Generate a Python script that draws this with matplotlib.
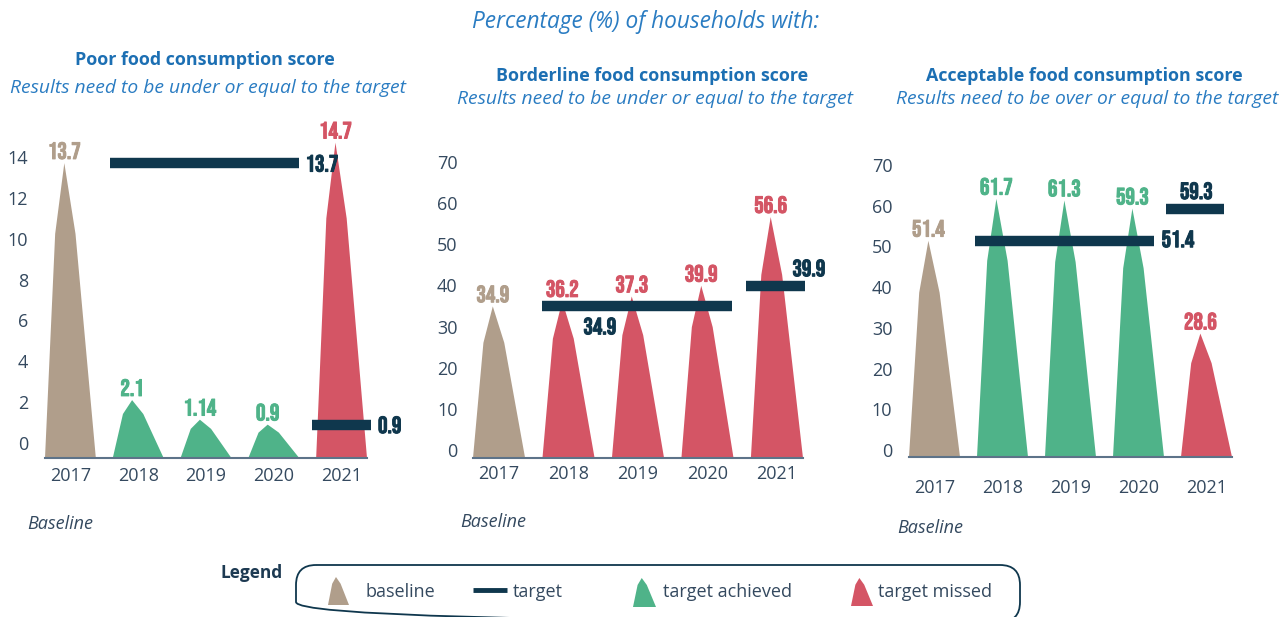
import numpy as np
import matplotlib
matplotlib.use('Agg')
import matplotlib.pyplot as plt
from matplotlib.patches import Polygon, FancyBboxPatch
from matplotlib import font_manager
import matplotlib.patheffects as pe

W, H = 1288, 617

years = ['2017', '2018', '2019', '2020', '2021']

poor_values = [13.7, 2.1, 1.14, 0.9, 14.7]
poor_status = ['baseline', 'achieved', 'achieved', 'achieved', 'missed']
poor_targets = [13.7, 0.9]
poor_target_years = [(1, 3), (4, 4)]

border_values = [34.9, 36.2, 37.3, 39.9, 56.6]
border_status = ['baseline', 'missed', 'missed', 'missed', 'missed']
border_targets = [34.9, 39.9]
border_target_years = [(1, 3), (4, 4)]

accept_values = [51.4, 61.7, 61.3, 59.3, 28.6]
accept_status = ['baseline', 'achieved', 'achieved', 'achieved', 'missed']
accept_targets = [51.4, 59.3]
accept_target_years = [(1, 3), (4, 4)]

poor_ticks = [0, 2, 4, 6, 8, 10, 12, 14]
pct_ticks = [0, 10, 20, 30, 40, 50, 60, 70]

titles = ['Poor food consumption score', 'Borderline food consumption score',
          'Acceptable food consumption score']
subtitles = ['Results need to be under or equal to the target',
             'Results need to be under or equal to the target',
             'Results need to be over or equal to the target']
legend_labels = ['baseline', 'target', 'target achieved', 'target missed']

# colours
COLORS = {'baseline': '#b09e8b', 'achieved': '#4fb389', 'missed': '#d45565'}
NAVY = '#0f374d'
BLUE = '#2a7cc2'
BLUE_B = '#1c6fb3'
SLATE = '#34495f'

# peak shape (relative x across bar width, relative height)
SHAPE_X = np.array([0.0, 0.2, 0.38, 0.6, 1.0])
SHAPE_Y = np.array([0.0, 0.76, 1.0, 0.76, 0.0])
BAR_W = 0.75

names = {f.name for f in font_manager.fontManager.ttflist}
COND = 'DejaVu Sans'
for cand in ['Bebas Neue', 'Oswald', 'Roboto Condensed', 'Liberation Sans Narrow']:
    if cand in names:
        COND = cand
        break

plt.rcParams['font.family'] = ['Open Sans', 'DejaVu Sans']

fig = plt.figure(figsize=(W / 100, H / 100), dpi=100)


def fx(px):
    return px / W


def fy(py):
    return 1 - py / H


def num_label(ax, text, xy, dy, color, va):
    ax.annotate(text, xy, xytext=(0, dy), textcoords='offset points',
                ha='center', va=va, color=color, fontsize=17, family=COND,
                fontweight='bold', annotation_clip=False,
                path_effects=[pe.withStroke(linewidth=0.7, foreground=color)])


def draw_panel(box, values, status, targets, tyears, tpads, ticks, ylim, tlab, xpad, ypad):
    left, top, right, bottom = box
    ax = fig.add_axes([fx(left), fy(bottom), fx(right - left), fy(top) - fy(bottom)])
    ax.set_xlim(-BAR_W / 2, len(values) - 1 + BAR_W / 2)
    ax.set_ylim(*ylim)
    base = ylim[0]
    for i, (v, s) in enumerate(zip(values, status)):
        xs = i + BAR_W * (SHAPE_X - 0.5)
        ys = base + (v - base) * SHAPE_Y
        ax.add_patch(Polygon(np.column_stack([xs, ys]), closed=True,
                             fc=COLORS[s], ec='none', zorder=2))
        num_label(ax, f'{v:g}', (xs[2], v), 3, COLORS[s], 'bottom')
    for t, (a, b), (pl, pr), (lx, dy) in zip(targets, tyears, tpads, tlab):
        ax.plot([a - pl, b + pr], [t, t], lw=7.5, color=NAVY,
                solid_capstyle='butt', zorder=3, clip_on=False)
        num_label(ax, f'{t:g}', (lx, t), dy, NAVY, 'center')
    ax.set_xticks(range(len(values)))
    ax.set_xticklabels(years)
    ax.set_yticks(ticks)
    ax.tick_params(axis='x', length=0, pad=xpad, labelsize=13, labelcolor=SLATE)
    ax.tick_params(axis='y', length=0, pad=ypad, labelsize=13, labelcolor=SLATE)
    for sp in ['left', 'right', 'top']:
        ax.spines[sp].set_visible(False)
    ax.spines['bottom'].set_color('#5d7389')
    ax.spines['bottom'].set_linewidth(1.5)
    ax.patch.set_alpha(0)
    return ax


draw_panel((45, 130, 367, 458), poor_values, poor_status, poor_targets, poor_target_years,
           [(0.42, 0.37), (0.44, 0.43)], poor_ticks, (-0.734, 15.32),
           [(3.71, 0), (4.71, 0)], 6.5, 12)
draw_panel((473, 150, 803, 458), border_values, border_status, border_targets,
           border_target_years, [(0.38, 0.36), (0.45, 0.4)], pct_ticks, (-1.94, 72.9),
           [(1.45, -14), (4.46, 13)], 5, 11)
draw_panel((909, 150, 1232, 457), accept_values, accept_status, accept_targets,
           accept_target_years, [(0.4, 0.23), (0.6, 0.26)], pct_ticks, (-1.72, 73.7),
           [(3.58, 1.5), (3.85, 13)], 15.5, 12)

# headings
fig.text(fx(646), fy(22), 'Percentage (%) of households with:', ha='center', va='center',
         fontsize=16.3, style='italic', color=BLUE)
for cx, ty, sy, t, s in zip([205, 652, 1084], [60, 76, 76], [88, 99, 99], titles, subtitles):
    fig.text(fx(cx), fy(ty), t, ha='center', va='center', fontsize=12.9,
             fontweight='bold', color=BLUE_B)
    fig.text(fx(cx + 3), fy(sy), s, ha='center', va='center', fontsize=13.9,
             style='italic', color=BLUE)
for cx, cy in [(60, 524), (493, 522), (930, 528)]:
    fig.text(fx(cx), fy(cy), 'Baseline', ha='center', va='center', fontsize=13,
             style='italic', color=SLATE)

# legend drawn in pixel space
lg = fig.add_axes([0, 0, 1, 1])
lg.set_xlim(0, W)
lg.set_ylim(H, 0)
lg.axis('off')
lg.patch.set_alpha(0)
lg.add_patch(FancyBboxPatch((296, 565), 724, 57, boxstyle='round,pad=0,rounding_size=20',
                            fc='none', ec=NAVY, lw=1.3))
lg.text(252, 573, 'Legend', ha='center', va='center', fontsize=12.4, fontweight='bold',
        color='#1d3a52')


def legend_peak(x0, x1, y0, y1, color):
    xs = x0 + (x1 - x0) * SHAPE_X
    ys = y0 - (y0 - y1) * SHAPE_Y
    lg.add_patch(Polygon(np.column_stack([xs, ys]), closed=True, fc=color, ec='none'))


legend_peak(328, 349, 605, 577, COLORS['baseline'])
lg.plot([473, 507], [590, 590], color=NAVY, lw=3.5, solid_capstyle='butt')
legend_peak(633, 656, 607, 578, COLORS['achieved'])
legend_peak(851, 873, 606, 578, COLORS['missed'])
for x, lab in zip([366, 513, 663, 878], legend_labels):
    lg.text(x, 592, lab, ha='left', va='center', fontsize=13, color=SLATE)

fig.savefig('out.png', dpi=100)
